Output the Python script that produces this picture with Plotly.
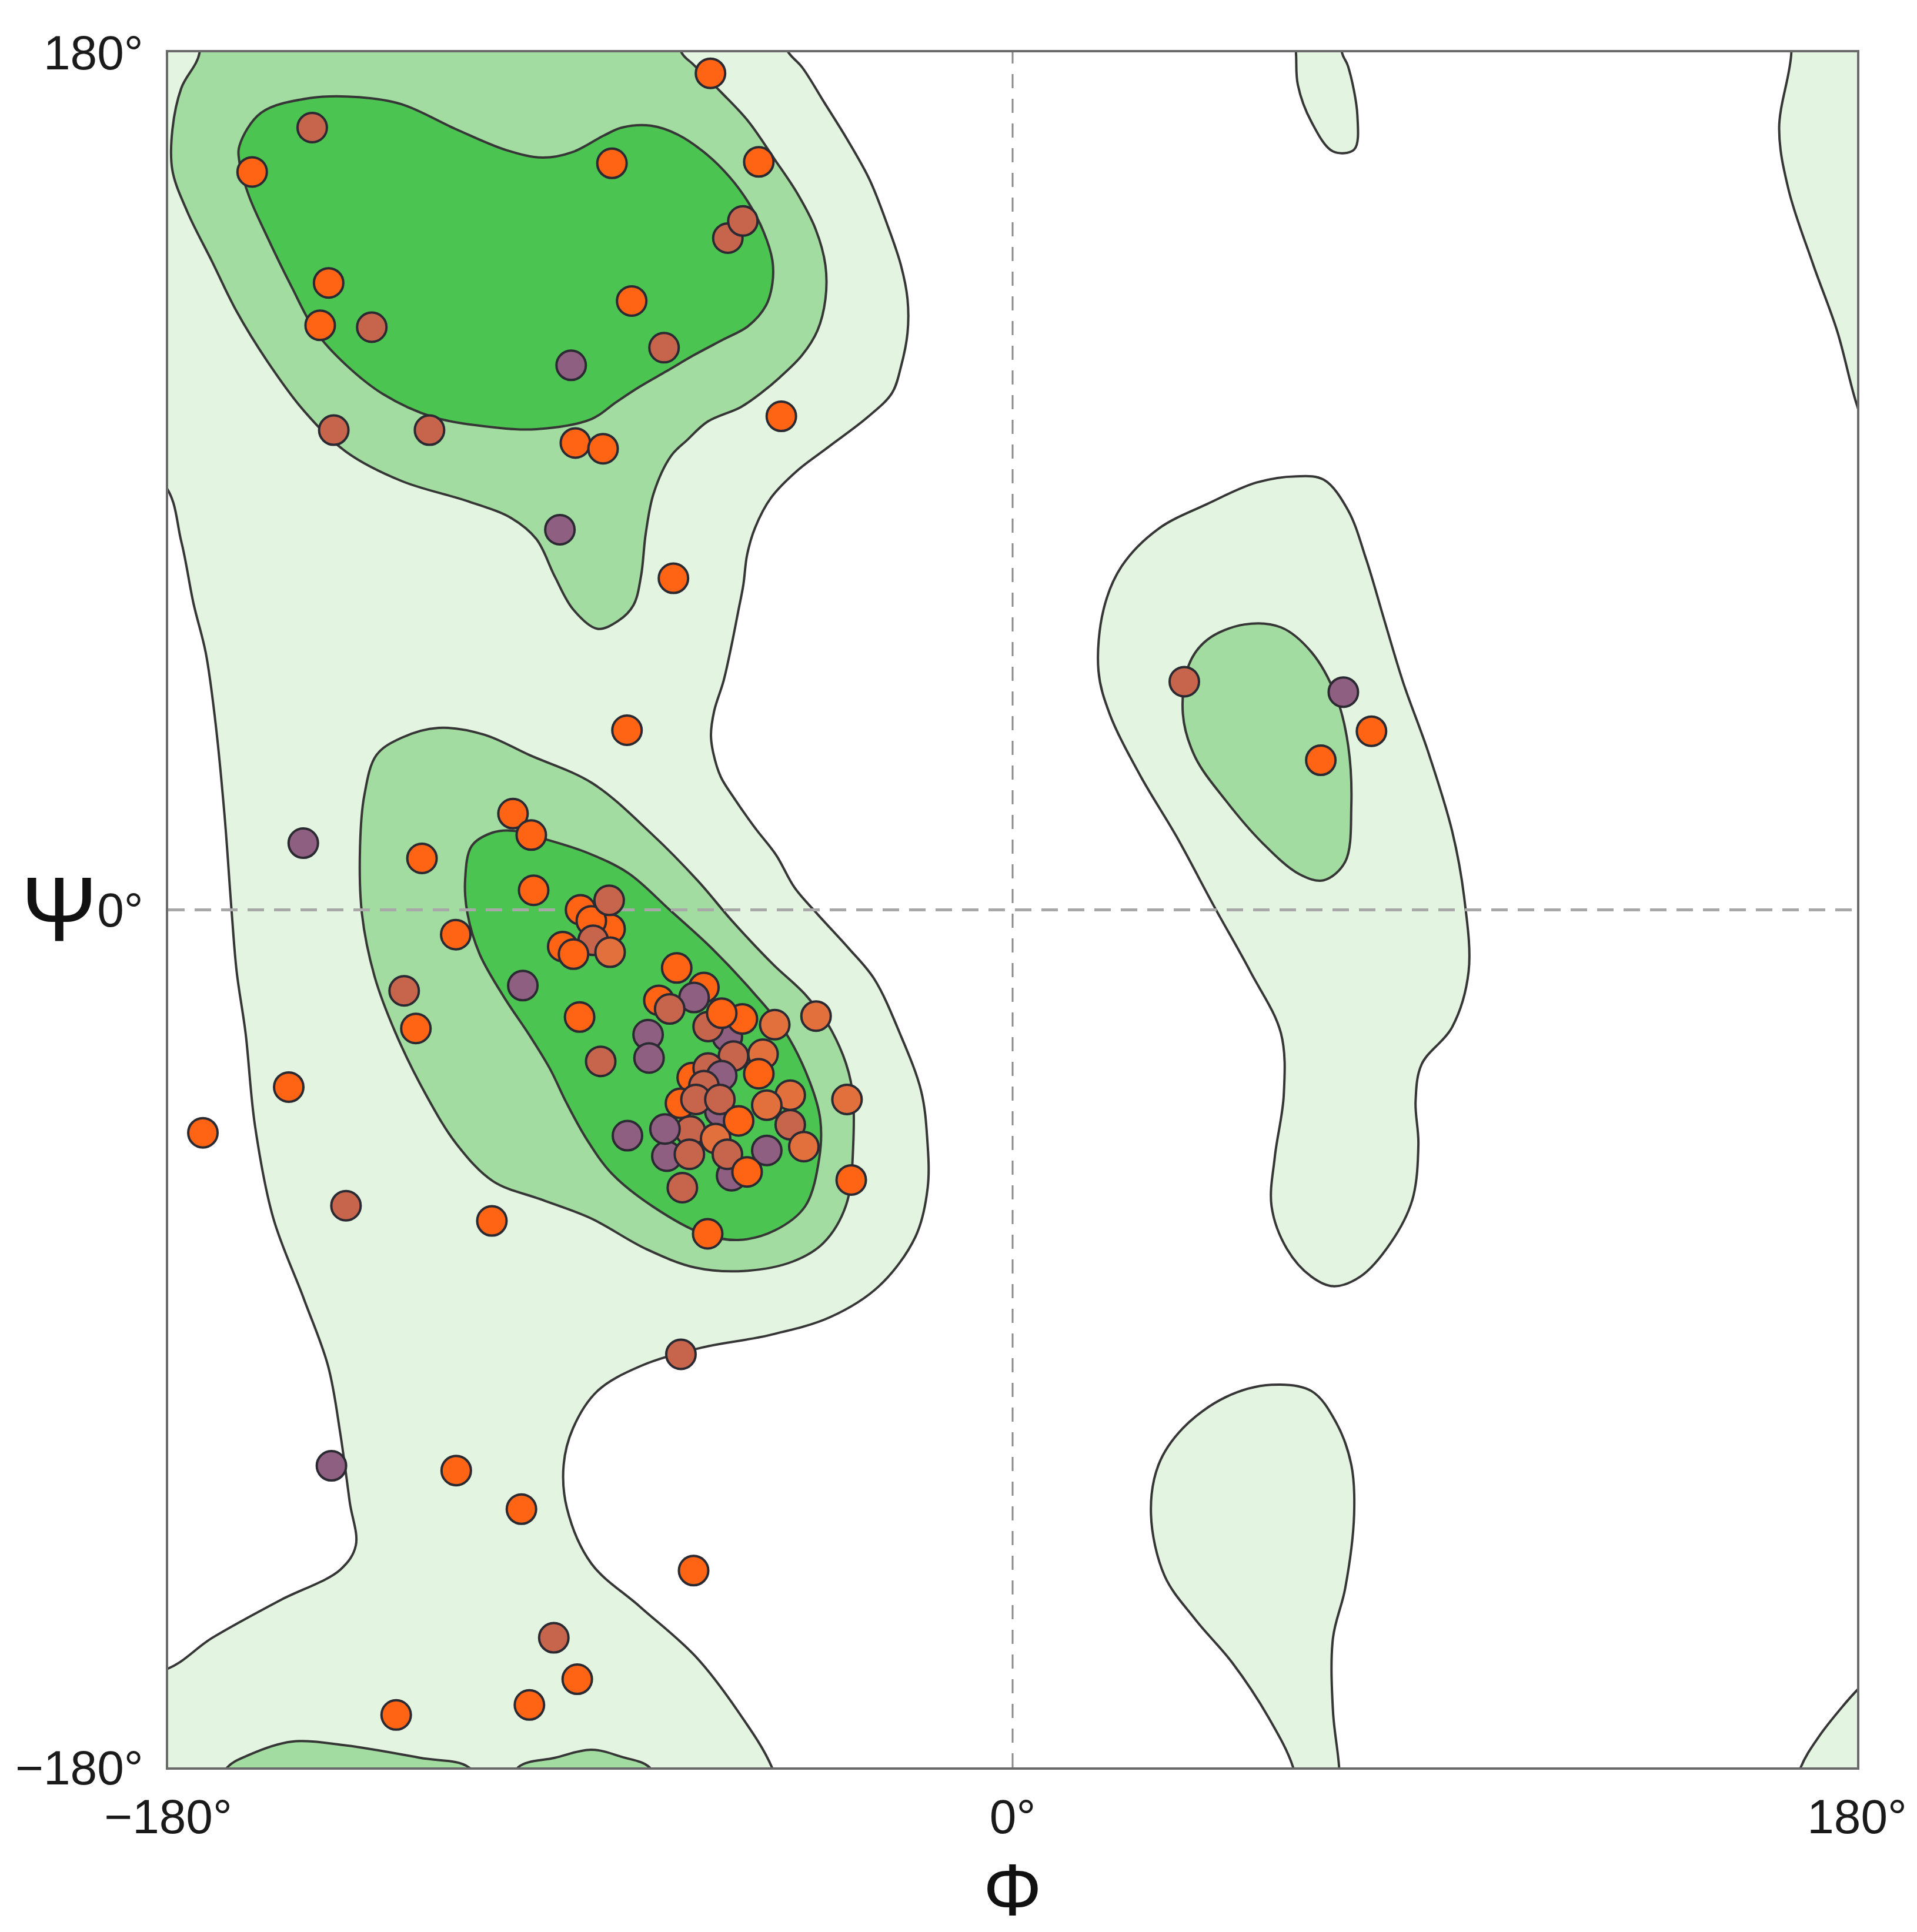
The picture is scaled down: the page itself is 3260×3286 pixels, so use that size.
import plotly.graph_objects as go

# ---- axis ticks ----
tick_vals = [-180, 0, 180]
tick_text = ["\u2212180\u00b0", "0\u00b0", "180\u00b0"]

# ---- contour regions (phi, psi outlines) ----
light_left_phi = [-200, -55, -47.8, -44.9, -40.1, -35.3, -30.5, -26.7, -23.8, -22.4, -22.4, -23.8, -25.7,
                  -30.8, -39.2, -45.9, -51.5, -54.9, -56.6, -57.4, -58.5, -59.9, -61.6, -63.6, -64.3, -63.8,
                  -62.2, -59.4, -54.9, -50.4, -46.5, -41.5, -35, -29.5, -24, -19.5, -18.2, -18.1,
                  -20.7, -28.5, -38.9, -52, -66.3, -79.4, -88.5, -93.7, -95.7, -95, -89.8, -79.4, -67.6, -58.5,
                  -51.3, -48, -200, -200, -181, -170.6, -156.3, -143.3, -140, -141.3, -143.3, -145.9, -151.1,
                  -157.6, -161.5, -163.5, -165.4, -166.5, -168, -170, -172, -174.6, -177.2, -181, -200]
light_left_psi = [200, 193, 180, 176.9, 169.4, 161.8, 153.3, 143.8, 135.3, 128.2, 121.1, 114, 108.5,
                  103.5, 97.2, 92.2, 86.5, 80.2, 74.5, 68.2, 62.6, 55.6, 48.1, 41.8, 36.7, 32.9,
                  27.9, 23.5, 17.2, 11.5, 4.7, -1, -8, -14.5, -26, -38, -48, -58.3,
                  -68.6, -79, -85.5, -89.3, -91.9, -95.8, -101, -108.8, -116.5, -125.6, -137.2, -146.3, -156.7, -168.3,
                  -180, -192, -195, -160, -159.6, -152.8, -145, -138.5, -133.4, -124.3, -110, -95.8, -81.6,
                  -64.7, -45.3, -25.9, -13, 0, 20, 40, 54, 64.3, 77.3, 89.5, 100]

light_right_phi = [60.4, 66.3, 71.5, 75.4, 79.3, 83.3, 88.5, 93.7, 96.3, 97.2, 93.7, 87.2, 85.9, 86.5, 85.2,
                   80.6, 74.1, 68.3, 63.7, 58.5, 55.2, 55.9, 57.8, 57.2, 50.7, 42.8, 35, 27.2, 20.7, 18.3,
                   19.4, 23.3, 31.1, 41.5, 52]
light_right_psi = [91, 90.3, 83.9, 73.5, 60.6, 47.6, 33.4, 16.5, 2.3, -13, -24.6, -32.4, -40.2, -49.2, -60.9,
                   -69.9, -77, -79, -77, -71.2, -62.2, -51.8, -38.9, -25.9, -13, 1, 15.3, 28.2, 41.1, 50.2,
                   63.1, 72.2, 80, 85.2, 89.7]

light_topblob_phi = [59.5, 60.4, 60.8, 63.7, 68.3, 72.8, 73.5, 71.5, 70.2, 70]
light_topblob_psi = [192, 180, 173.2, 165.4, 159.2, 159.6, 166.7, 177.1, 180, 192]

light_topright_phi = [165, 166, 163.4, 165.4, 170.6, 175.8, 180, 184, 200, 200]
light_topright_psi = [192, 180, 164.1, 151.2, 135.6, 121.4, 105.9, 96, 96, 192]

light_bottom_phi = [55.2, 45.4, 36.3, 31.1, 29.5, 32.4, 38.9, 46.8, 54.6, 59.8, 61.5, 69.8, 69.6, 68.3,
                    68.3, 70.9, 72.8, 72.2, 68.9, 63.7]
light_bottom_psi = [-99.7, -102.3, -108.8, -116.5, -126.9, -139.8, -148.9, -158, -169.6, -180, -190, -190, -180,
                    -168.3, -152.8, -142.4, -126.9, -116.5, -107.5, -101]

light_botright_phi = [165, 168, 171.9, 177.1, 180, 184, 200, 200]
light_botright_psi = [-192, -180, -173.5, -167, -163.8, -160, -160, -192]

med_top_phi = [-175, -173.3, -177.2, -179.1, -179.1, -175.9, -170.6, -165.4, -158.9, -151.1, -142, -130.2,
               -115.9, -106.8, -101.5, -97.6, -93.7, -88.5, -84, -80.8, -79.2, -78.2, -76.5, -72.8, -69.5,
               -65, -58, -53.6, -49.7, -44.9, -41.6, -39.9, -39.9, -42, -45.9, -50.7, -56.4, -62.2, -68,
               -70.6, -73]
med_top_psi = [192, 180, 172.5, 163.8, 155.2, 146.5, 136, 125.6, 115.2, 104.8, 96.1, 90,
               85.7, 82.2, 77.8, 70, 63.1, 59, 60.7, 64, 70.1, 79, 87.5, 95.3, 98.5,
               102.5, 105.5, 108.5, 111.7, 116.4, 121.6, 128.2, 135.3, 142.9, 150.4, 157.5, 165.6, 171.7, 177.4,
               180, 192]

med_alpha_phi = [-122.4, -112.7, -103, -89.6, -77, -67, -59.9, -51.1, -44, -38.5, -34.5, -34, -35.5,
                 -40.3, -46.8, -57.2, -67.6, -78.1, -89.8, -100.2, -110.7, -118.5, -125, -131.5, -136,
                 -138.7, -139.1, -138.2, -135.6, -130.3]
med_alpha_psi = [38.2, 36.8, 32.5, 26.6, 16, 6, -2.2, -11.4, -18, -25.5, -36, -50, -62,
                 -69.9, -73.8, -75.8, -75.1, -71.2, -64.8, -60.9, -57, -49.2, -38.9, -25.9, -14,
                 -0.8, 13.4, 24, 32.5, 36.1]

med_right_phi = [49.4, 41.5, 37.6, 36.3, 38.9, 45.4, 53.3, 61.1, 66.3, 70.9, 72.2, 71.5, 68.9, 63.7, 57.2]
med_right_psi = [59.9, 56.7, 51.5, 41.1, 32.1, 23, 14, 7.5, 6.2, 10.1, 21.7, 34.7, 45, 54.1, 59.3]

med_bump1_phi = [-170, -167.4, -162.8, -153.7, -142, -126.3, -115.9, -113]
med_bump1_psi = [-186, -180, -177.4, -174.6, -175.4, -178, -180, -186]
med_bump2_phi = [-107, -105.4, -97.6, -89.8, -83.3, -77.4, -75]
med_bump2_psi = [-186, -180, -178, -176.3, -177.8, -180, -186]

dark_top_phi = [-164.8, -160.2, -149.8, -139.3, -130.2, -118.5, -108, -100.2, -93.7, -87.2, -83.3, -77.1,
                -71.3, -65.1, -60.3, -56.4, -53.1, -51.2, -51.2, -52.6, -56.4, -61.7, -68, -73.7, -79.5,
                -84.6, -89.8, -101.5, -110.7, -123.7, -134.1, -142, -148.5, -153.7, -158.9, -162.8, -164.8]
dark_top_psi = [160.4, 167.3, 170.4, 170.6, 169.1, 163.8, 159.5, 157.9, 159.1, 162.5, 164.2, 164.6,
                162.7, 158.5, 153.8, 148.6, 142.4, 136.3, 131.5, 126.8, 122.5, 119.7, 116.4, 113.1, 109.8,
                106.5, 103, 100.9, 101.3, 103.5, 108.2, 114.3, 121.3, 130.8, 141.3, 149.9, 156.9]

dark_alpha_phi = [-110.9, -106.5, -99.5, -90.7, -81.9, -73.1, -64.3, -55.5, -48.5, -43.2, -41, -41.2, -44.2,
                  -50.7, -58.5, -66, -76.8, -85.4, -90.7, -95.1, -98.6, -103, -108.3, -113.6, -116.2,
                  -116.7, -115.3]
dark_alpha_psi = [16.2, 16.6, 14.8, 12, 7.7, 0, -7.9, -17.1, -25.6, -36.2, -44, -52, -62.2,
                  -67.3, -69.3, -68, -62.2, -55.4, -48.3, -40.5, -33.4, -26.3, -18.5, -9.3, -0.8,
                  6.3, 13.4]

# ---- residues ----
res_phi = [
    -64.4, -149.3, -162.1, -85.4, -54.1, -60.7, -57.5, -145.8, -81.2, -147.6, -136.6, -74.3, -94.1,
    -144.7, -124.3, -93.2, -87.3, -49.3, -96.5, -72.3, -82.2,
    -151.2, -125.9, -106.5, -102.6, -102.1, -118.7, -129.7, -127.2, -104.4, -92.3, -87.8, -154.3,
    -172.6, -142.1, -111.0, -65.0, -70.7, -145.2, -118.6, -104.7, -68.0, -97.8, -92.8, -103.0, -131.4,
    -85.8, -95.9, -92.1, -89.8, -86.0, -89.4, -93.6, -85.8,
    -65.8, -75.4, -60.8, -68.3, -62.4, -73.7, -59.9, -57.6, -59.5, -64.9, -67.9, -73.1, -64.9, -62.0,
    -50.7, -41.9, -77.7, -77.5, -53.2, -62.0, -54.1, -65.8, -70.8, -67.5, -62.4, -47.4, -52.4, -47.4,
    -68.7, -74.1, -82.1, -63.3, -68.9, -60.8, -52.4, -44.5, -58.4, -56.6, -70.4, -71.6, -35.3, -34.4,
    36.6, 70.5, 76.5, 65.7,
]
res_psi = [
    175.6, 164.2, 154.9, 156.7, 157.0, 141.0, 144.6, 131.6, 127.8, 122.7, 122.3, 118.0, 114.3,
    100.7, 100.7, 98.0, 96.8, 103.6, 79.8, 69.6, 37.7,
    14.0, 10.8, 20.2, 15.7, 4.1, -5.2, -17.0, -24.9, -15.9, -22.5, -31.8, -37.2,
    -46.8, -62.1, -65.3, -68.0, -93.3, -116.7, -117.7, -125.8, -138.7, -152.8, -161.5, -166.9, -169.0,
    -4.0, -7.7, 0.0, -2.3, 2.0, -6.4, -9.3, -8.9,
    -16.3, -19.0, -26.6, -35.2, -42.3, -51.7, -55.8, -22.9, -30.7, -33.2, -18.4, -20.8, -24.5, -21.7,
    -24.1, -22.3, -26.2, -31.1, -30.3, -34.8, -34.4, -36.9, -40.6, -39.8, -39.8, -38.9, -41.0, -45.1,
    -46.4, -46.0, -47.4, -48.0, -51.3, -51.3, -50.5, -49.7, -44.3, -55.0, -58.3, -12.2, -39.8, -56.7,
    47.9, 45.7, 37.5, 31.4,
]
res_kind = [
    "O", "B", "O", "O", "O", "B", "B", "O", "O", "O", "B", "B", "P",
    "B", "B", "O", "O", "O", "P", "O", "O",
    "P", "O", "O", "O", "O", "O", "B", "O", "P", "O", "B", "O",
    "O", "B", "O", "O", "B", "P", "O", "O", "O", "B", "O", "O", "O",
    "O", "O", "O", "O", "B", "B", "O", "T",
    "O", "O", "P", "O", "P", "P", "P", "O", "B", "B", "P", "B", "B", "O",
    "T", "T", "P", "P", "T", "P", "O", "B", "O", "B", "B", "T", "T", "B",
    "B", "P", "P", "T", "B", "B", "P", "T", "O", "O", "B", "O", "T", "O",
    "B", "P", "O", "O",
]

kind_color = {"O": "#ff6314", "T": "#e2703c", "B": "#c6654c", "P": "#8e5f80"}
fill_light, fill_med, fill_dark = "#e3f5e0", "#a3dca0", "#4bc452"
edge = "#363636"

fig = go.Figure()


def region(phi, psi, color):
    fig.add_trace(go.Scatter(
        x=phi + phi[:1], y=psi + psi[:1], mode="lines", fill="toself",
        fillcolor=color, line=dict(color=edge, width=4, shape="spline", smoothing=1),
        hoverinfo="skip", showlegend=False))


region(light_left_phi, light_left_psi, fill_light)
region(light_right_phi, light_right_psi, fill_light)
region(light_topblob_phi, light_topblob_psi, fill_light)
region(light_topright_phi, light_topright_psi, fill_light)
region(light_bottom_phi, light_bottom_psi, fill_light)
region(light_botright_phi, light_botright_psi, fill_light)
region(med_top_phi, med_top_psi, fill_med)
region(med_alpha_phi, med_alpha_psi, fill_med)
region(med_right_phi, med_right_psi, fill_med)
region(med_bump1_phi, med_bump1_psi, fill_med)
region(med_bump2_phi, med_bump2_psi, fill_med)
region(dark_top_phi, dark_top_psi, fill_dark)
region(dark_alpha_phi, dark_alpha_psi, fill_dark)

# zero lines
fig.add_trace(go.Scatter(x=[0, 0], y=[tick_vals[0], tick_vals[-1]], mode="lines",
                         line=dict(color="#8a8a8a", width=3, dash="24px,18px"),
                         hoverinfo="skip", showlegend=False))
fig.add_trace(go.Scatter(x=[tick_vals[0], tick_vals[-1]], y=[0, 0], mode="lines",
                         line=dict(color="#a8a8a8", width=5, dash="28px,17px"),
                         hoverinfo="skip", showlegend=False))

fig.add_trace(go.Scatter(
    x=res_phi, y=res_psi, mode="markers",
    marker=dict(size=50, color=[kind_color[k] for k in res_kind],
                line=dict(color="#2b2a33", width=4)),
    showlegend=False))

tick_font = dict(family="Liberation Sans, Arial, sans-serif", size=82, color="#1a1a1a")
axis_common = dict(range=[-180, 180], tickvals=tick_vals, ticktext=tick_text, showgrid=False,
                   zeroline=False, showline=True, mirror=True, linecolor="#6a6a6a", linewidth=4,
                   ticks="", tickfont=tick_font)
fig.update_xaxes(**axis_common, ticklabelstandoff=10)
fig.update_yaxes(**axis_common, ticklabelstandoff=22)

fig.add_annotation(text="\u03a8", xref="paper", yref="y", x=-0.0644, y=0, xanchor="center",
                   yanchor="middle", showarrow=False,
                   font=dict(family="Liberation Sans, Arial, sans-serif", size=155, color="#111"))
fig.add_annotation(text="\u03a6", xref="x", yref="paper", x=0, y=-0.071, xanchor="center",
                   yanchor="middle", showarrow=False,
                   font=dict(family="Liberation Sans, Arial, sans-serif", size=125, color="#111"))

fig.update_layout(width=3260, height=3286, margin=dict(l=278, r=110, t=81, b=288),
                  paper_bgcolor="white", plot_bgcolor="white")

fig.write_html("out.html")
